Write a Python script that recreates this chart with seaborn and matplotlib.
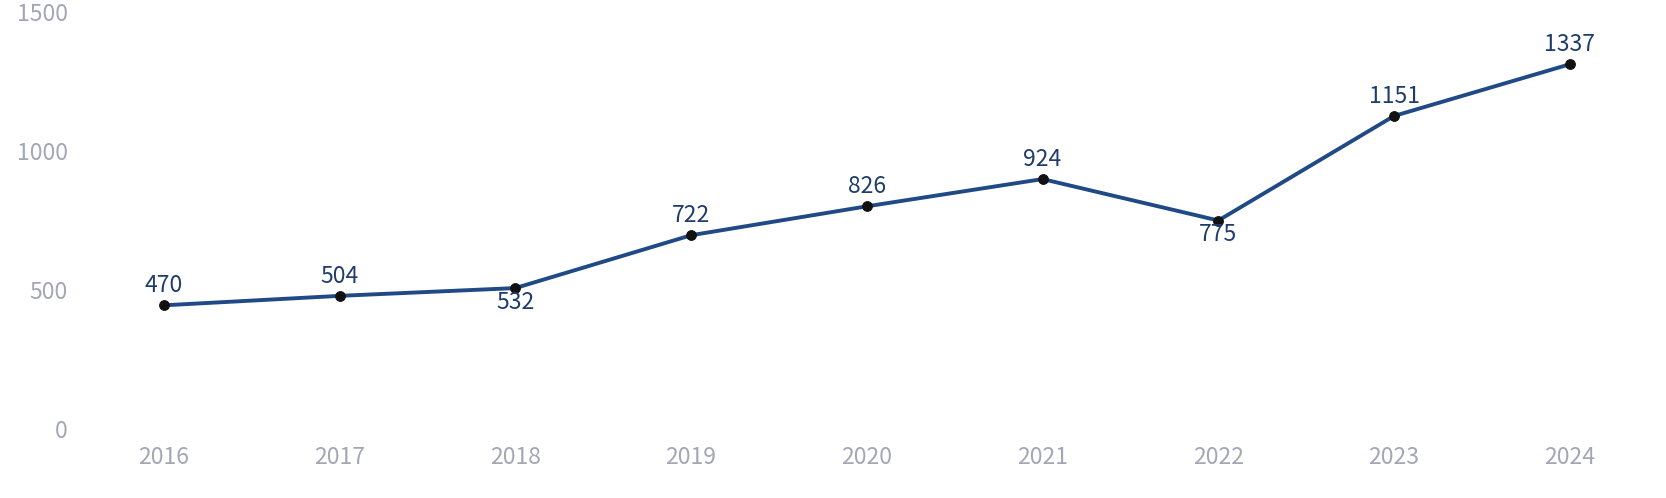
import matplotlib
matplotlib.use("Agg")
import matplotlib.pyplot as plt
import matplotlib.transforms as mtransforms
import seaborn as sns
import pandas as pd

years = ["2016", "2017", "2018", "2019", "2020", "2021", "2022", "2023", "2024"]
values = [470, 504, 532, 722, 826, 924, 775, 1151, 1337]
label_below = [False, False, True, False, False, False, True, False, False]
y_ticks = [0, 500, 1000, 1500]

sns.set_theme(style="white")
plt.rcParams['font.family'] = ['Noto Sans CJK SC', 'DejaVu Sans']

df = pd.DataFrame({"year": years, "value": values})
df["x"] = range(len(years))

fig = plt.figure(figsize=(16.66, 4.98), dpi=100)
ax = fig.add_axes([0.0456, 0.1245, 0.9494, 0.8375])

sns.lineplot(data=df, x="x", y="value", ax=ax, color="#1f4a85", linewidth=2.8,
             marker="o", markersize=7, markerfacecolor="#111111",
             markeredgecolor="#111111", zorder=3)

for xi, v, below in zip(df["x"], values, label_below):
    if below:
        ax.annotate(str(v), (xi, v), xytext=(0, -2), textcoords="offset points",
                    ha="center", va="top", fontsize=16.5, color="#1f3d6b")
    else:
        ax.annotate(str(v), (xi, v), xytext=(0, 6), textcoords="offset points",
                    ha="center", va="bottom", fontsize=16.5, color="#1f3d6b")

ax.set_xlim(-0.5, len(years) - 0.5)
ax.set_ylim(0, 1500)
ax.set_xticks(list(df["x"]))
ax.set_xticklabels(years)
ax.set_yticks(y_ticks)
ax.set_yticklabels([str(t) for t in y_ticks])
ax.tick_params(axis="both", length=0, labelsize=16.5, labelcolor="#a3a6b4")
ax.tick_params(axis="x", pad=7)
ax.tick_params(axis="y", pad=6)
ax.set_xlabel("")
ax.set_ylabel("")
for s in ax.spines.values():
    s.set_visible(False)
ax.grid(False)

shift = mtransforms.ScaledTranslation(0, 5 / 72, fig.dpi_scale_trans)
for lbl in ax.get_yticklabels():
    lbl.set_transform(lbl.get_transform() + shift)

fig.savefig("out.png", dpi=100, facecolor="white")
